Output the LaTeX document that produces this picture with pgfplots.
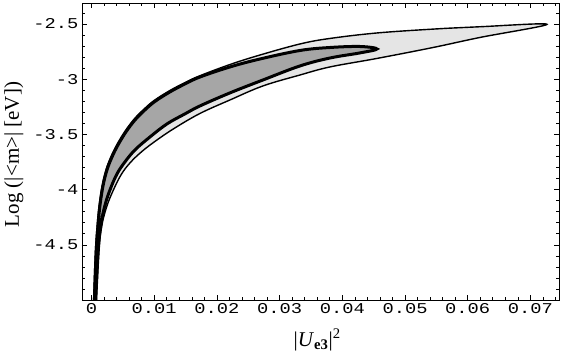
\documentclass[border=0pt]{standalone}
\usepackage{fontspec}
\setmainfont{Liberation Serif}
\newfontfamily\tickfont[FakeStretch=1.25]{Liberation Mono}
\usepackage{pgfplots}
\pgfplotsset{compat=1.18}
\definecolor{lightfill}{gray}{0.9}
\definecolor{darkfill}{gray}{0.65}
\begin{document}
\begin{tikzpicture}
\begin{axis}[
    name=ax,
    scale only axis, width=477pt, height=297pt,
    xmin=-0.00152, xmax=0.07456, ymin=-5, ymax=-2.31,
    no markers,
    scaled x ticks=false, scaled y ticks=false,
    axis line style={line width=0.8pt},
    tick align=inside,
    major tick length=5pt, minor tick length=3pt,
    every tick/.style={black, line width=0.6pt},
    xtick={0,0.01,0.02,0.03,0.04,0.05,0.06,0.07},
    xticklabels={0,0.01,0.02,0.03,0.04,0.05,0.06,0.07},
    minor xtick={0,0.002,...,0.0745},
    ytick={-4.5,-4,-3.5,-3,-2.5},
    yticklabels={-4.5,-4,-3.5,-3,-2.5},
    minor ytick={-5,-4.9,...,-2.3},
    ticklabel style={font=\tickfont\fontsize{15}{17}\selectfont},
    xlabel={|\textit{U}\textsubscript{\textbf{e3}}|\textsuperscript{2}},
    ylabel={Log (|<m>| [eV])},
    every axis x label/.style={at={(axis description cs:0.493,-0.135)}, anchor=center,
        font=\fontsize{21}{24}\selectfont},
    every axis y label/.style={at={(axis description cs:-0.143,0.49)}, anchor=center, rotate=90,
        font=\fontsize{21}{24}\selectfont},
]
% light region: upper edge, then lower edge back
\addplot[draw=black, line width=1.4pt, fill=lightfill, smooth, tension=0.6] coordinates {
(0.00028,-5.10) (0.00060,-4.581) (0.00092,-4.310) (0.00124,-4.129) (0.00171,-3.957)
(0.00235,-3.812) (0.00315,-3.695) (0.00411,-3.586) (0.00538,-3.468) (0.00682,-3.360)
(0.00841,-3.269) (0.01001,-3.192) (0.01240,-3.106) (0.01479,-3.034) (0.01719,-2.971)
(0.02209,-2.867) (0.02687,-2.781) (0.03325,-2.681) (0.03804,-2.631) (0.04601,-2.579)
(0.05670,-2.539) (0.06196,-2.525) (0.07265,-2.503)
(0.06196,-2.622) (0.05447,-2.713) (0.04553,-2.812) (0.03804,-2.889) (0.03325,-2.962)
(0.02735,-3.061) (0.02209,-3.188) (0.01731,-3.310) (0.01332,-3.441) (0.01045,-3.550)
(0.00805,-3.654) (0.00614,-3.758) (0.00470,-3.867) (0.00343,-4.011) (0.00247,-4.147)
(0.00167,-4.319) (0.00120,-4.554) (0.00072,-5.10)
} -- cycle;
% dark region
\addplot[draw=black, line width=3pt, fill=darkfill, smooth, tension=0.6] coordinates {
(0.00040,-5.10) (0.00072,-4.590) (0.00104,-4.319) (0.00136,-4.138) (0.00183,-3.966)
(0.00247,-3.821) (0.00327,-3.704) (0.00423,-3.595) (0.00550,-3.477) (0.00694,-3.369)
(0.00853,-3.278) (0.01013,-3.201) (0.01252,-3.115) (0.01491,-3.043) (0.01731,-2.980)
(0.02209,-2.889) (0.02687,-2.817) (0.03325,-2.740) (0.03804,-2.713) (0.04282,-2.704)
(0.04553,-2.726)
(0.04282,-2.762) (0.03804,-2.808) (0.03325,-2.880) (0.02735,-3.007) (0.02209,-3.124)
(0.01731,-3.242) (0.01491,-3.314) (0.01204,-3.405) (0.00933,-3.523) (0.00694,-3.640)
(0.00534,-3.749) (0.00407,-3.857) (0.00295,-4.002) (0.00215,-4.141) (0.00152,-4.310)
(0.00104,-4.554) (0.00056,-5.10)
} -- cycle;
\end{axis}
\pgfresetboundingbox
\path[use as bounding box] ([shift={(-82pt,-54pt)}]ax.south west) rectangle ([shift={(10pt,3pt)}]ax.north east);
\end{tikzpicture}
\end{document}
